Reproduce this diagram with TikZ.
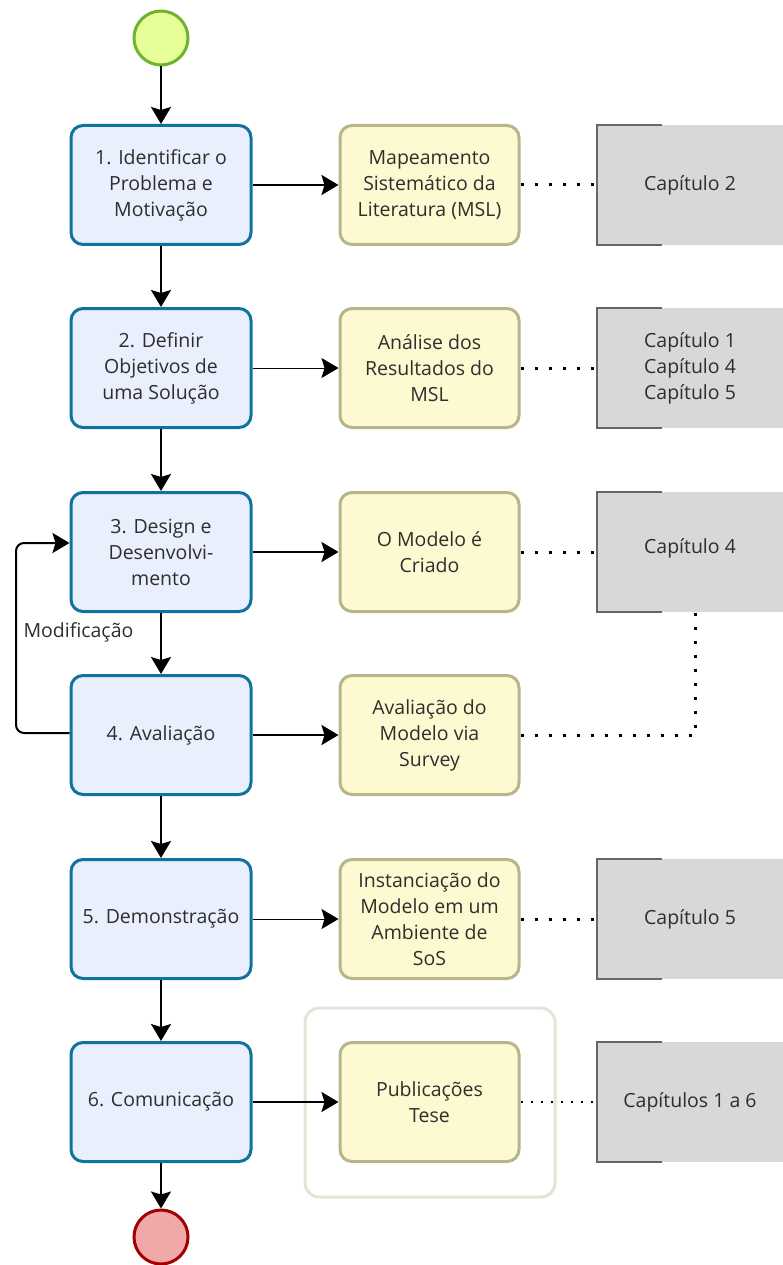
\documentclass[tikz,border=0pt]{standalone}
\usepackage{fontspec}
\setmainfont{Open Sans}
\usetikzlibrary{arrows.meta}
\definecolor{taskblue}{HTML}{10739E}
\definecolor{taskfill}{HTML}{EAEFFD}
\definecolor{yelfill}{HTML}{FDF9D0}
\definecolor{yeldraw}{HTML}{B7B58A}
\definecolor{annfill}{HTML}{D8D8D8}
\definecolor{anndraw}{HTML}{666666}
\definecolor{txt}{HTML}{2E2E2E}
\definecolor{startfill}{HTML}{E6FF99}
\definecolor{startdraw}{HTML}{6FB32F}
\definecolor{endfill}{HTML}{F0A8A8}
\definecolor{enddraw}{HTML}{A50000}
\definecolor{grpdraw}{HTML}{E4E4D6}
\begin{document}
\begin{tikzpicture}[x=1pt,y=-1pt,
  lbl/.style={font=\fontsize{19.5}{26}\selectfont, text=txt, align=center},
  task/.style={lbl, draw=taskblue, fill=taskfill, line width=3pt, rounded corners=12pt, minimum width=180pt, minimum height=119pt},
  artifact/.style={lbl, draw=yeldraw, fill=yelfill, line width=3pt, rounded corners=12pt, minimum width=179pt, minimum height=119pt},
  annot/.style={lbl, fill=annfill, minimum width=186pt, minimum height=120pt, inner sep=0pt},
  bracket/.style={draw=anndraw, line width=1.5pt},
  flow/.style={line width=2pt, -{Stealth[length=17pt,width=20pt,inset=3pt]}},
  thinflow/.style={line width=1pt, -{Stealth[length=17pt,width=20pt,inset=3pt]}},
  assoc/.style={line width=3pt, dash pattern=on 3pt off 11pt},
  thinassoc/.style={line width=1.5pt, dash pattern=on 2pt off 8pt},
  event/.style={circle, minimum size=54pt, line width=3pt, inner sep=0pt}
]
\useasboundingbox (0,0) rectangle (783,1265);

% start / end
\node[event, draw=startdraw, fill=startfill] (start) at (161,38) {};
\node[event, draw=enddraw, fill=endfill] (end) at (161,1237) {};

% group
\node[draw=grpdraw, line width=3pt, rounded corners=14pt, minimum width=250pt, minimum height=189pt] (grp) at (430,1102.5) {};

% tasks
\node[task] (t1) at (161,185) {1. Identificar o\\Problema e\\Motivação};
\node[task] (t2) at (161,368) {2. Definir\\Objetivos de\\uma Solução};
\node[task] (t3) at (161,552) {3. Design e\\Desenvolvi-\\mento};
\node[task] (t4) at (161,735) {4. Avaliação};
\node[task] (t5) at (161,919) {5. Demonstração};
\node[task] (t6) at (161,1102) {6. Comunicação};

% artifacts
\node[artifact] (y1) at (429.5,185) {Mapeamento\\Sistemático da\\Literatura (MSL)};
\node[artifact] (y2) at (429.5,368) {Análise dos\\Resultados do\\MSL};
\node[artifact] (y3) at (429.5,552) {O Modelo é\\Criado};
\node[artifact] (y4) at (429.5,735) {Avaliação do\\Modelo via\\Survey};
\node[artifact] (y5) at (429.5,919) {Instanciação do\\Modelo em um\\Ambiente de\\SoS};
\node[artifact] (y6) at (429.5,1102) {Publicações\\Tese};

% annotations
\node[annot] (a1) at (690,185) {Capítulo 2};
\node[annot] (a2) at (690,368) {Capítulo 1\\Capítulo 4\\Capítulo 5};
\node[annot] (a3) at (690,552) {\raisebox{12pt}{Capítulo 4}};
\node[annot] (a5) at (690,919) {Capítulo 5};
\node[annot] (a6) at (690,1102) {Capítulos 1 a 6};
\foreach \a in {a1,a2,a3,a5,a6}{
  \draw[bracket] ([xshift=65pt]\a.north west) -- (\a.north west) -- (\a.south west) -- ([xshift=65pt]\a.south west);
}

% sequence flows
\draw[flow] (start) -- (t1);
\draw[flow] (t1) -- (t2);
\draw[flow] (t2) -- (t3);
\draw[flow] (t3) -- (t4);
\draw[flow] (t4) -- (t5);
\draw[flow] (t5) -- (t6);
\draw[flow] (t6) -- (end);

% to artifacts
\draw[flow] (t1) -- (y1);
\draw[thinflow] (t2) -- (y2);
\draw[flow] (t3) -- (y3);
\draw[flow] (t4) -- (y4);
\draw[thinflow] (t5) -- (y5);
\draw[flow] (t6) -- (y6);

% loop
\draw[flow, rounded corners=8pt] ([yshift=2pt]t4.west) -| (16,640) |- ([yshift=9pt]t3.west);
\node[lbl, anchor=west] (mod) at (20,632) {Modificação};

% associations
\draw[assoc] (y1) -- (a1);
\draw[assoc] (y2) -- (a2);
\draw[assoc] (y3) -- (a3);
\draw[assoc] (y4) -| ([xshift=5pt]a3.south);
\draw[assoc] (y5) -- (a5);
\draw[thinassoc] (y6) -- (a6);
\end{tikzpicture}
\end{document}
